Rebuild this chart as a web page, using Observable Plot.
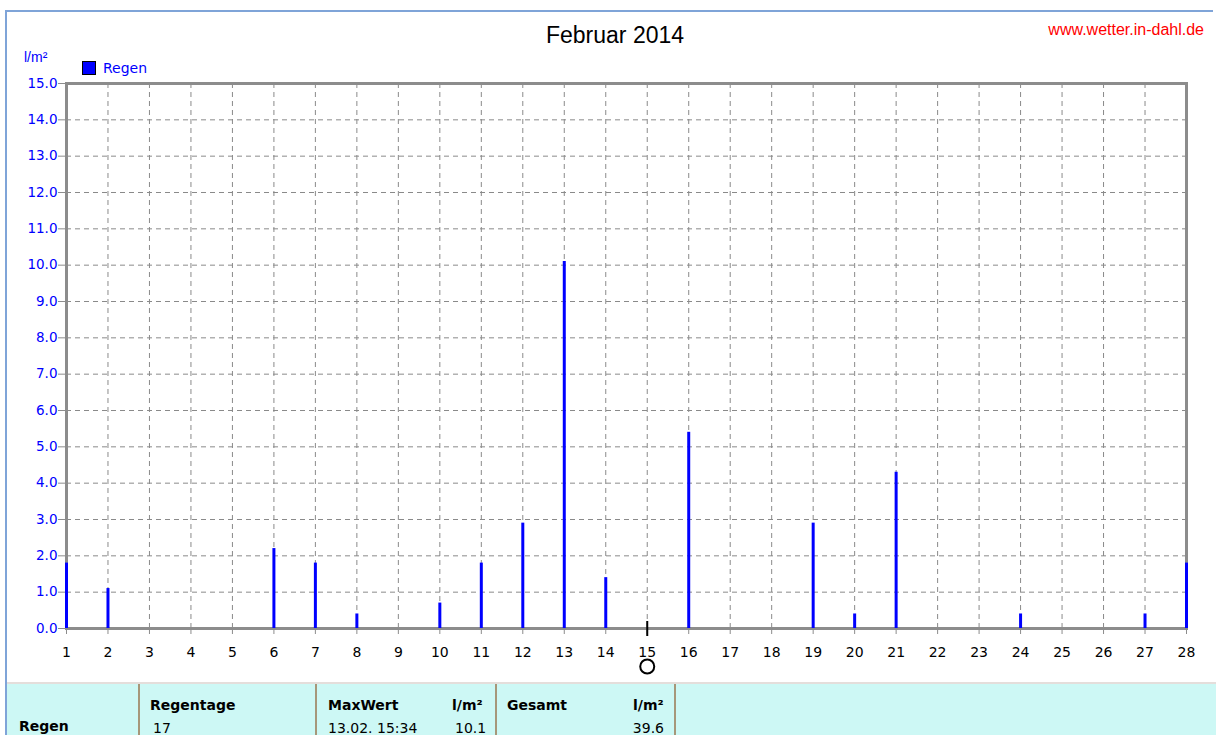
<!DOCTYPE html>
<html><head><meta charset="utf-8">
<script src="https://cdn.jsdelivr.net/npm/d3@7"></script>
<script src="https://cdn.jsdelivr.net/npm/@observablehq/plot@0.6"></script>
<style>
body{margin:0;background:#fff;}
#wrap{position:relative;width:1216px;height:735px;overflow:hidden;font-family:"DejaVu Sans",sans-serif;background:#fff;}
#frameline{position:absolute;left:5px;top:10px;width:1208px;height:740px;border-top:2px solid #7fa4d8;border-left:2px solid #7fa4d8;box-sizing:border-box;}
#chart{position:absolute;left:0;top:0;}
.t{position:absolute;white-space:nowrap;line-height:1;}
#title{left:0;width:1230px;text-align:center;top:24px;font-family:"Liberation Sans",Arial,sans-serif;font-size:23px;color:#000;}
#url{right:12px;top:22px;font-family:"Liberation Sans",Arial,sans-serif;font-size:16px;color:#ff0000;}
#unit{left:24px;top:50px;font-size:14px;color:#0000ff;font-family:"Liberation Sans",Arial,sans-serif;}
#legsq{position:absolute;left:82px;top:61px;width:12px;height:12px;background:#0000ff;border:1px solid #000;}
#legtx{left:103px;top:61px;font-size:14px;color:#0000ff;}
#table{position:absolute;left:7px;top:682px;width:1209px;height:60px;background:#cdf8f5;border-top:2px solid #e4dedb;box-sizing:border-box;}
.sep{position:absolute;top:684px;width:2px;height:60px;background:#a6977a;}
.b{font-weight:bold;font-size:14px;color:#000;}
.n{font-size:14px;color:#000;}
</style></head>
<body><div id="wrap">
<div id="frameline"></div>
<div id="chart"></div>
<div class="t" id="title"></div>
<div class="t" id="url"></div>
<div class="t" id="unit"></div>
<div id="legsq"></div>
<div class="t" id="legtx"></div>
<div id="table"></div>
<div class="sep" style="left:138px"></div>
<div class="sep" style="left:315px"></div>
<div class="sep" style="left:495px"></div>
<div class="sep" style="left:674px"></div>
<div class="t b" style="left:19px;top:719px">Regen</div>
<div class="t b" style="left:150px;top:698px">Regentage</div>
<div class="t n" style="left:153px;top:721px" id="tdays"></div>
<div class="t b" style="left:328px;top:698px">MaxWert</div>
<div class="t b" style="left:452px;top:698px">l/m²</div>
<div class="t n" style="left:328px;top:721px" id="tmaxdate"></div>
<div class="t n" style="left:455px;top:721px" id="tmax"></div>
<div class="t b" style="left:507px;top:698px">Gesamt</div>
<div class="t b" style="left:633px;top:698px">l/m²</div>
<div class="t n" style="right:552px;top:721px" id="tsum"></div>
</div>
<script>
const title = "Februar 2014";
const source = "www.wetter.in-dahl.de";
const unitLabel = "l/m²";
const seriesName = "Regen";
const days = [1, 2, 6, 7, 8, 10, 11, 12, 13, 14, 16, 19, 20, 21, 24, 27, 28];
const rain = [1.8, 1.1, 2.2, 1.8, 0.4, 0.7, 1.8, 2.9, 10.1, 1.4, 5.4, 2.9, 0.4, 4.3, 0.4, 0.4, 1.8];
const xTicks = d3.range(1, 29);
const yTicks = d3.range(0, 16);
const moonDays = [15];
const statRainDays = "17";
const statMaxDate = "13.02.  15:34";
const statMax = "10.1";
const statTotal = "39.6";

document.getElementById("title").textContent = title;
document.getElementById("url").textContent = source;
document.getElementById("unit").textContent = unitLabel;
document.getElementById("legtx").textContent = seriesName;
document.getElementById("tdays").textContent = statRainDays;
document.getElementById("tmaxdate").textContent = statMaxDate;
document.getElementById("tmax").textContent = statMax;
document.getElementById("tsum").textContent = statTotal;

const data = days.map((d, i) => ({day: d, value: rain[i]}));
const grid = {stroke: "#8a8a8a", strokeOpacity: 1, strokeDasharray: "5,4", strokeWidth: 1};

const chart = Plot.plot({
  width: 1216,
  height: 680,
  marginTop: 83,
  marginBottom: 52,
  marginLeft: 66,
  marginRight: 30,
  style: {fontFamily: "DejaVu Sans, sans-serif", fontSize: "13px", background: "transparent", overflow: "visible"},
  x: {domain: [1, 28]},
  y: {domain: [0, 15]},
  marks: [
    Plot.gridY(yTicks.slice(1, -1), grid),
    Plot.gridX(xTicks.slice(1, -1), grid),
    Plot.frame({stroke: "#8c8c8c", strokeWidth: 3}),
    Plot.axisY(yTicks, {tickFormat: d => d.toFixed(1), tickSize: 8, tickPadding: 1, stroke: "#8c8c8c", fill: "#0000ff", fontSize: 13.5, label: null}),
    Plot.axisX(xTicks, {tickFormat: d => String(d), tickSize: 6, tickPadding: 13, stroke: "#8c8c8c", fill: "#000", fontSize: 14, label: null}),
    Plot.ruleX(data, {x: "day", y1: 0, y2: "value", stroke: "#0000ff", strokeWidth: 3}),
    Plot.ruleX(moonDays, {x: d => d, y1: 0, y2: 0, insetTop: -7, insetBottom: -8, stroke: "#000", strokeWidth: 2}),
    Plot.dot(moonDays, {x: d => d, y: () => 0, dy: 38, r: 7, stroke: "#000", strokeWidth: 2, fill: "none"})
  ]
});
document.getElementById("chart").appendChild(chart);
</script>
</body></html>
